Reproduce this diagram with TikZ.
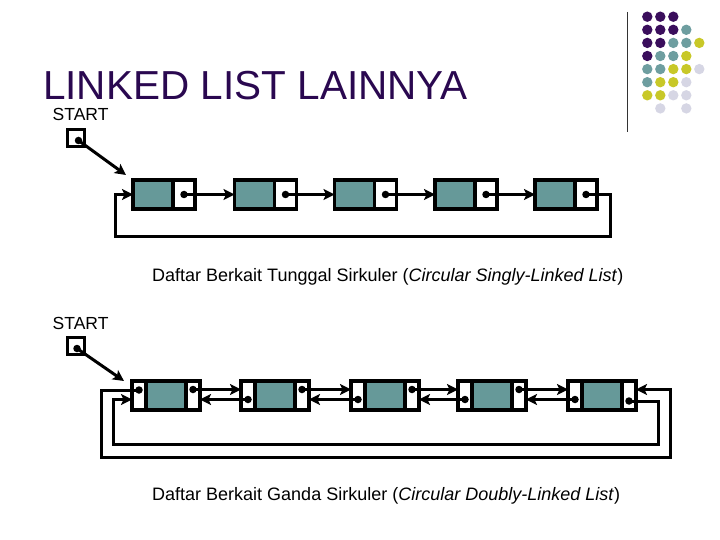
\documentclass[tikz,border=0pt]{standalone}
\usepackage{fontspec}
\setmainfont{Liberation Sans}
\usepackage{tikz}
\usetikzlibrary{arrows.meta,positioning,calc}

\definecolor{titlepurple}{RGB}{42,8,80}
\definecolor{cellteal}{RGB}{102,153,153}
\definecolor{dotP}{RGB}{58,14,92}
\definecolor{dotT}{RGB}{110,158,160}
\definecolor{dotY}{RGB}{200,200,40}
\definecolor{dotL}{RGB}{214,214,228}
\definecolor{dotN}{RGB}{255,255,255}

\tikzset{
  cell/.style={draw, line width=3.1pt, inner sep=0pt, outer sep=0pt, minimum height=29pt},
  datacell/.style={cell, fill=cellteal, minimum width=40pt},
  ptrcell/.style={cell, fill=white, minimum width=22pt},
  sidecell/.style={cell, fill=white, minimum width=14pt},
  startbox/.style={draw, line width=2.8pt, inner sep=0pt, outer sep=0pt, minimum size=17pt},
  dotnode/.style={circle, fill=black, inner sep=0pt, minimum size=7.5pt},
  link/.style={line width=3pt, -{Stealth[length=11pt,width=11pt,inset=2.5pt]}},
  textlabel/.style={inner sep=0pt, anchor=base west}
}

\begin{document}
\begin{tikzpicture}[x=1pt, y=-1pt]
        \useasboundingbox (0,0) rectangle (720,540);

        % Title and side ornament
        \node[textlabel, text=titlepurple, font=\fontsize{40.5}{48}\selectfont] (title) at (43,99.5) {LINKED LIST LAINNYA};
        \draw[line width=1pt, black!80] (627,12) -- (627,132);
        \foreach \r/\row in {0/{P,P,P}, 1/{P,P,P,T}, 2/{P,P,T,T,Y}, 3/{P,T,T,Y}, 4/{T,T,Y,Y,L}, 5/{T,Y,Y,L}, 6/{Y,Y,L,L}, 7/{N,L,N,L}}
            \foreach \k [count=\c from 0] in \row
                \fill[dot\k] (647.3+13*\c, 16.7+13.1*\r) circle (5.2pt);

        % Singly circular list: start pointer
        \node[textlabel, font=\fontsize{17.5}{21}\selectfont] (start1) at (52.5,120.7) {START};
        \node[startbox] (st1) at (76,138) {};
        \node[dotnode] (st1x) at ([shift={(2.5pt,-2.5pt)}]st1.center) {};
        \coordinate (st1e) at (126,175);

        % Singly circular list: nodes
        \node[datacell, anchor=west] (s1) at (133,194.5) {};
        \node[ptrcell, anchor=west] (s1p) at (s1.east) {};
        \node[datacell, anchor=west] (s2) at (234.5,194.5) {};
        \node[ptrcell, anchor=west] (s2p) at (s2.east) {};
        \node[datacell, anchor=west] (s3) at (334.5,194.5) {};
        \node[ptrcell, anchor=west] (s3p) at (s3.east) {};
        \node[datacell, anchor=west] (s4) at (435,194.5) {};
        \node[ptrcell, anchor=west] (s4p) at (s4.east) {};
        \node[datacell, anchor=west] (s5) at (535,194.5) {};
        \node[ptrcell, anchor=west] (s5p) at (s5.east) {};
        \node[dotnode] (s1x) at (s1p.center) {};
        \node[dotnode] (s2x) at (s2p.center) {};
        \node[dotnode] (s3x) at (s3p.center) {};
        \node[dotnode] (s4x) at (s4p.center) {};
        \node[dotnode] (s5x) at (s5p.center) {};

        % Singly circular list: links
        \draw[link] (st1x.center) -- (st1e);
        \draw[link] (s1x.center) -- (s2.west);
        \draw[link] (s2x.center) -- (s3.west);
        \draw[link] (s3x.center) -- (s4.west);
        \draw[link] (s4x.center) -- (s5.west);
        \coordinate (sr) at (610,236);
        \coordinate (sl) at (115,236);
        \draw[link] (s5x.center) -| (sr) -- (sl) |- (s1.west);

        \node[textlabel, font=\fontsize{18}{22}\selectfont] (cap1) at (152,281) {Daftar Berkait Tunggal Sirkuler (\textit{Circular Singly-Linked List})};

        % Doubly circular list: start pointer
        \node[textlabel, font=\fontsize{17.5}{21}\selectfont] (start2) at (52.5,329) {START};
        \node[startbox] (st2) at (76,346) {};
        \node[dotnode] (st2x) at ([shift={(1pt,-2.5pt)}]st2.center) {};
        \coordinate (st2e) at (124,381);

        % Doubly circular list: nodes
        \node[sidecell, anchor=west] (d1l) at (132,395.5) {};
        \node[datacell, anchor=west] (d1) at (d1l.east) {};
        \node[sidecell, anchor=west] (d1r) at (d1.east) {};
        \node[sidecell, anchor=west] (d2l) at (241,395.5) {};
        \node[datacell, anchor=west] (d2) at (d2l.east) {};
        \node[sidecell, anchor=west] (d2r) at (d2.east) {};
        \node[sidecell, anchor=west] (d3l) at (351,395.5) {};
        \node[datacell, anchor=west] (d3) at (d3l.east) {};
        \node[sidecell, anchor=west] (d3r) at (d3.east) {};
        \node[sidecell, anchor=west] (d4l) at (458,395.5) {};
        \node[datacell, anchor=west] (d4) at (d4l.east) {};
        \node[sidecell, anchor=west] (d4r) at (d4.east) {};
        \node[sidecell, anchor=west] (d5l) at (568,395.5) {};
        \node[datacell, anchor=west] (d5) at (d5l.east) {};
        \node[sidecell, anchor=west] (d5r) at (d5.east) {};
        \node[dotnode] (d1a) at ([yshift=5.5pt]d1l.center) {};
        \node[dotnode] (d1b) at ([yshift=6pt]d1r.center) {};
        \node[dotnode] (d2a) at ([yshift=-4pt]d2l.center) {};
        \node[dotnode] (d2b) at ([yshift=6pt]d2r.center) {};
        \node[dotnode] (d3a) at ([yshift=-4pt]d3l.center) {};
        \node[dotnode] (d3b) at ([yshift=6pt]d3r.center) {};
        \node[dotnode] (d4a) at ([yshift=-4pt]d4l.center) {};
        \node[dotnode] (d4b) at ([yshift=6pt]d4r.center) {};
        \node[dotnode] (d5a) at ([yshift=-4pt]d5l.center) {};
        \node[dotnode] (d5b) at ([yshift=-5.5pt]d5r.center) {};

        % Doubly circular list: links
        \draw[link] (st2x.center) -- (st2e);
        \draw[link] (d1b.center) -- (d1b.center -| d2l.west);
        \draw[link] (d2a.center) -- (d2a.center -| d1r.east);
        \draw[link] (d2b.center) -- (d2b.center -| d3l.west);
        \draw[link] (d3a.center) -- (d3a.center -| d2r.east);
        \draw[link] (d3b.center) -- (d3b.center -| d4l.west);
        \draw[link] (d4a.center) -- (d4a.center -| d3r.east);
        \draw[link] (d4b.center) -- (d4b.center -| d5l.west);
        \draw[link] (d5a.center) -- (d5a.center -| d4r.east);
        \coordinate (ol) at (101,457);
        \coordinate (or) at (670,457);
        \coordinate (d5in) at ([yshift=6pt]d5r.east);
        \draw[link] (d1a.center) -| (ol) -- (or) |- (d5in);
        \coordinate (ir) at (658,444);
        \coordinate (il) at (113,444);
        \coordinate (d1in) at ([yshift=-4pt]d1l.west);
        \draw[link] (d5b.center) -| (ir) -- (il) |- (d1in);

        \node[textlabel, font=\fontsize{18}{22}\selectfont] (cap2) at (152,500.5) {Daftar Berkait Ganda Sirkuler (\textit{Circular Doubly-Linked List})};
    \end{tikzpicture}
\end{document}
